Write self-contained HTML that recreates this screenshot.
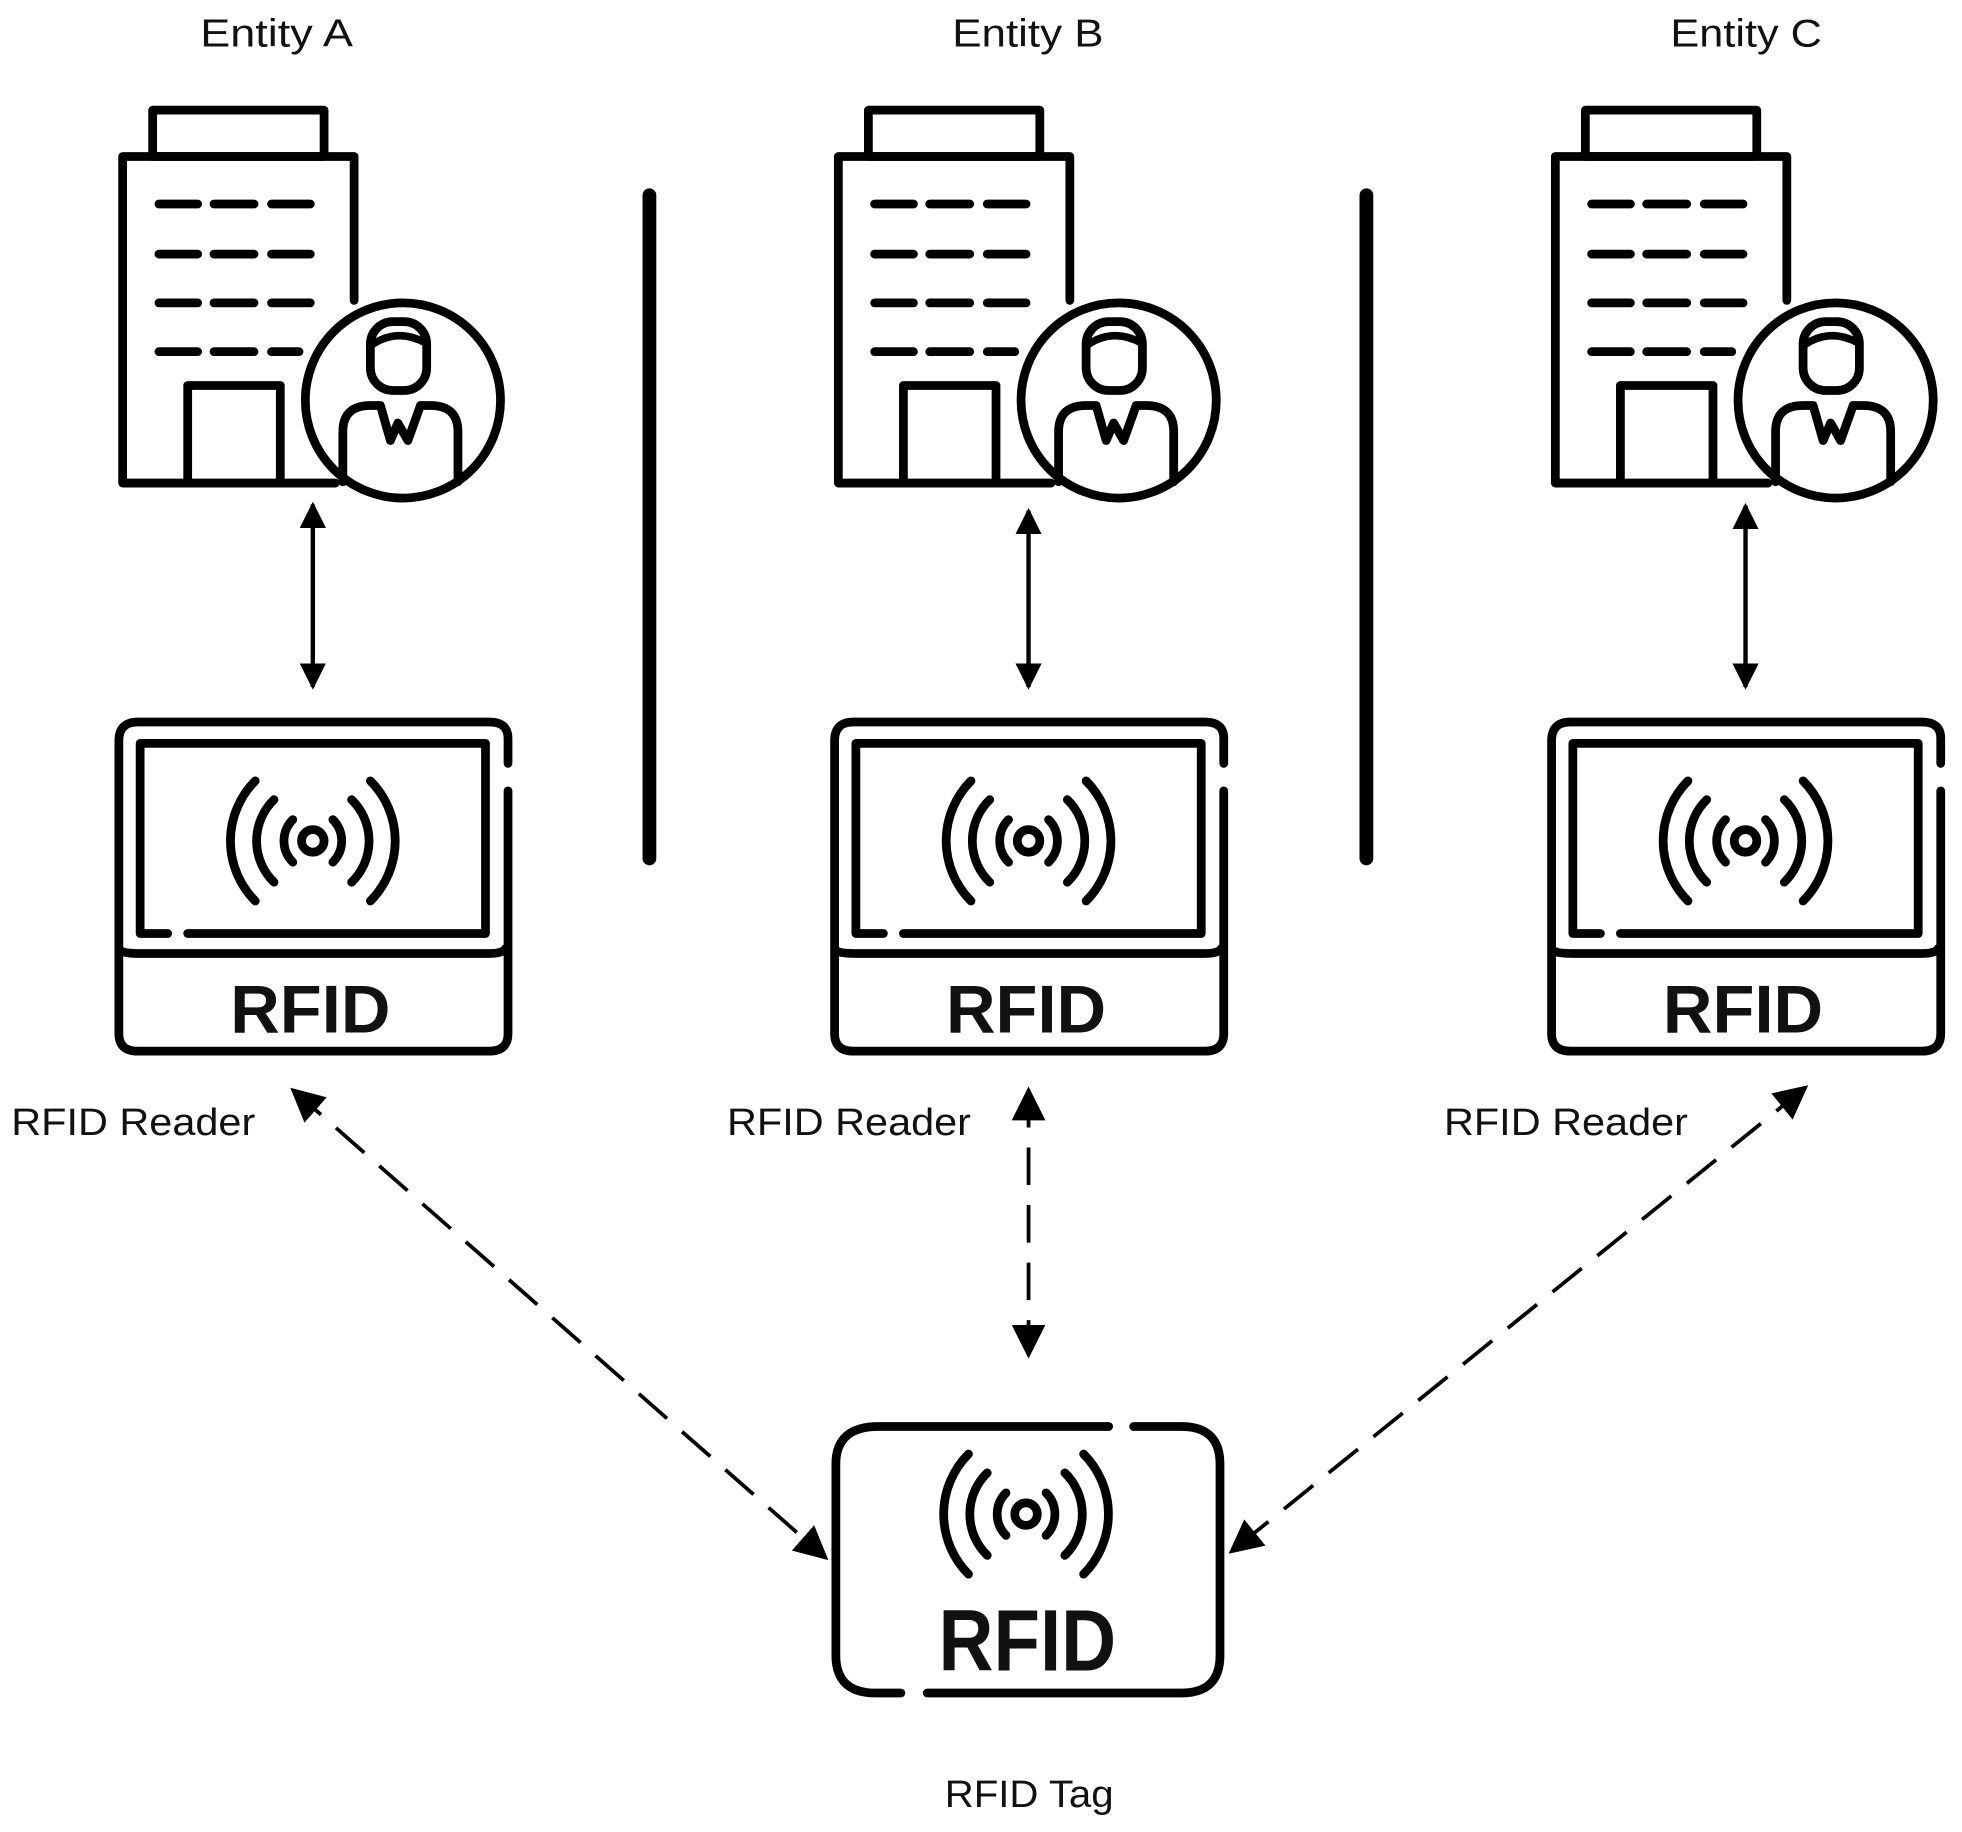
<!DOCTYPE html>
<html><head><meta charset="utf-8"><style>
html,body{margin:0;padding:0;background:#fff;}
svg{display:block}
text{font-family:"Liberation Sans",sans-serif;fill:#111}
</style></head><body>
<svg width="1962" height="1832" viewBox="0 0 1568 1464" xmlns="http://www.w3.org/2000/svg">
<defs>
<marker id="ah" viewBox="0 0 10 10" refX="9" refY="5" markerWidth="6" markerHeight="6" markerUnits="strokeWidth" orient="auto-start-reverse">
<path d="M0,0 L10,5 L0,10 z" fill="#000"/>
</marker>
<marker id="ah2" viewBox="0 0 10 10" refX="9" refY="5" markerWidth="9" markerHeight="9" markerUnits="strokeWidth" orient="auto-start-reverse">
<path d="M0,0 L10,5 L0,10 z" fill="#000"/>
</marker>
<g id="bld" fill="none" stroke="#000" stroke-width="7" stroke-linecap="round" stroke-linejoin="round">
<rect x="122" y="88" width="137" height="37"/>
<path d="M283,240 L283,125 L98,125 L98,386 L268,386"/>
<path d="M127,163h31M171,163h32M217,163h31M127,203h31M171,203h32M217,203h31M127,242h31M171,242h32M217,242h31M127,281h31M171,281h32M217,281h22"/>
<path d="M150,386 V308 H224 V386"/>
<circle cx="322" cy="320" r="78" fill="#fff"/>
<rect x="296" y="257" width="45" height="55" rx="18"/>
<path d="M298,275 Q318,262 340,274" stroke-width="6"/>
<path d="M274,385 V345 Q274,324 296,324 H304 L312,352 L318,338 L326,352 L336,324 H344 Q366,324 366,345 V385"/>
</g>
<g id="wav" fill="none" stroke="#000" stroke-width="7" stroke-linecap="round">
<circle cx="0" cy="0" r="9"/>
<path d="M-16,-17 A24,24 0 0 0 -16,17 M16,-17 A24,24 0 0 1 16,17"/>
<path d="M-31,-33 A46,46 0 0 0 -31,33 M31,-33 A46,46 0 0 1 31,33"/>
<path d="M-46,-48 A68,68 0 0 0 -46,48 M46,-48 A68,68 0 0 1 46,48"/>
</g>
<g id="rdr" fill="none" stroke="#000" stroke-width="7" stroke-linecap="round" stroke-linejoin="round">
<path d="M406,610 V590 Q406,577 391,577 H110 Q95,577 95,592 V826 Q95,840 110,840 H391 Q406,840 406,826 V632"/>
<path d="M134,746 H112 V594 H388 V746 H150"/>
<path d="M97,760 Q100,762 112,762 H390 Q402,762 404,758"/>
<use href="#wav" x="250" y="672"/>
</g>
</defs>

<g font-size="31">
<text x="160" y="37" textLength="122" lengthAdjust="spacingAndGlyphs">Entity A</text>
<text x="761" y="37" textLength="121" lengthAdjust="spacingAndGlyphs">Entity B</text>
<text x="1335" y="37" textLength="121" lengthAdjust="spacingAndGlyphs">Entity C</text>
</g>

<use href="#bld"/>
<use href="#bld" x="572"/>
<use href="#bld" x="1145"/>

<line x1="519" y1="156" x2="519" y2="686" stroke="#000" stroke-width="11" stroke-linecap="round"/>
<line x1="1092" y1="156" x2="1092" y2="686" stroke="#000" stroke-width="11" stroke-linecap="round"/>

<g stroke="#000" stroke-width="3.5" marker-start="url(#ah)" marker-end="url(#ah)">
<line x1="250" y1="403" x2="250" y2="549"/>
<line x1="822" y1="408" x2="822" y2="549"/>
<line x1="1395" y1="404" x2="1395" y2="549"/>
</g>

<use href="#rdr"/>
<use href="#rdr" x="572"/>
<use href="#rdr" x="1145"/>
<g font-size="54" font-weight="bold">
<text x="184" y="825" textLength="128" lengthAdjust="spacingAndGlyphs">RFID</text>
<text x="756" y="825" textLength="128" lengthAdjust="spacingAndGlyphs">RFID</text>
<text x="1329" y="825" textLength="128" lengthAdjust="spacingAndGlyphs">RFID</text>
</g>

<g font-size="30">
<text x="9" y="907" textLength="195" lengthAdjust="spacingAndGlyphs">RFID Reader</text>
<text x="581" y="907" textLength="195" lengthAdjust="spacingAndGlyphs">RFID Reader</text>
<text x="1154" y="907" textLength="195" lengthAdjust="spacingAndGlyphs">RFID Reader</text>
<text x="755" y="1444" textLength="135" lengthAdjust="spacingAndGlyphs">RFID Tag</text>
</g>

<g stroke="#000" stroke-width="3" fill="none" stroke-dasharray="30,16" marker-start="url(#ah2)" marker-end="url(#ah2)">
<line x1="234" y1="871" x2="660" y2="1245"/>
<line x1="822" y1="871" x2="822" y2="1083"/>
<line x1="1443" y1="869" x2="984" y2="1240"/>
</g>

<g fill="none" stroke="#000" stroke-width="7" stroke-linecap="round" stroke-linejoin="round">
<path d="M886,1140 H702 Q668,1140 668,1170 V1323 Q668,1353 700,1353 H720"/>
<path d="M906,1140 H944 Q975,1140 975,1170 V1323 Q975,1353 944,1353 H741"/>
<use href="#wav" x="820" y="1210"/>
</g>
<text x="750" y="1335" font-size="70" font-weight="bold" textLength="142" lengthAdjust="spacingAndGlyphs">RFID</text>
</svg>
</body></html>
